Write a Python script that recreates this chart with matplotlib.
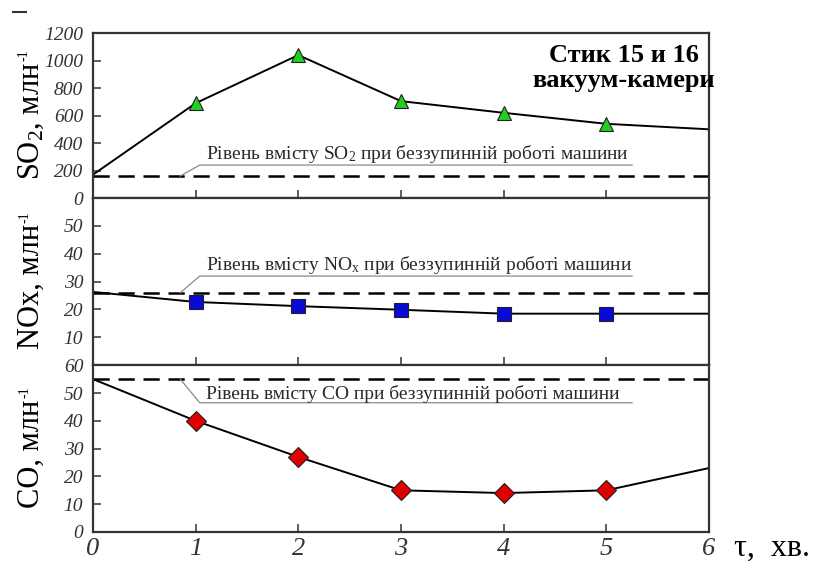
import matplotlib
matplotlib.use("Agg")
from matplotlib import pyplot as plt
from matplotlib.lines import Line2D

# time, min
t_points = [1, 2, 3, 4, 5]
t_line = [0, 1, 2, 3, 4, 5, 6]

so2_line = [170, 690, 1040, 705, 620, 540, 500]
nox_line = [26.3, 22.7, 21.2, 19.9, 18.5, 18.5, 18.5]
co_line = [55, 40, 27, 15, 14, 15, 23]

so2_base = 160
nox_base = 26
co_base = 55

so2_ticks = [0, 200, 400, 600, 800, 1000, 1200]
nox_ticks = [10, 20, 30, 40, 50]
co_ticks = [0, 10, 20, 30, 40, 50, 60]

serif = ["Liberation Serif", "DejaVu Serif"]
plt.rcParams['font.family'] = serif
plt.rcParams['mathtext.fontset'] = 'custom'
plt.rcParams['mathtext.rm'] = 'Liberation Serif'
plt.rcParams['mathtext.it'] = 'Liberation Serif:italic'
plt.rcParams['mathtext.bf'] = 'Liberation Serif:bold'

fig = plt.figure(figsize=(8.39, 5.61), dpi=100)
L, W = 0.1108, 0.7343
ax1 = fig.add_axes([L, 0.647, W, 0.294])
ax2 = fig.add_axes([L, 0.349, W, 0.298])
ax3 = fig.add_axes([L, 0.0517, W, 0.2973])

panels = [
    (ax1, so2_line, so2_base, (0, 1200), so2_ticks, "^", "#1fd01f",
     r"SO$_{\mathregular{2}}$, млн",
     r"Рівень вмісту SO$_{\mathregular{2}}$ при беззупинній роботі машини", 240),
    (ax2, nox_line, nox_base, (0, 60), nox_ticks, "s", "#0a0ad8",
     "NOx, млн",
     r"Рівень вмісту NO$_{\mathregular{x}}$ при беззупинній роботі машини", 32),
    (ax3, co_line, co_base, (0, 60), co_ticks, "D", "#e00000",
     "CO, млн",
     "Рівень вмісту CO при беззупинній роботі машини", 46.5),
]

for ax, vals, base, ylim, ticks, mk, col, ylab, note, uy in panels:
    ax.plot(t_line, vals, color="black", lw=1.4, zorder=2)
    ax.plot(t_points, vals[1:6], ls="none", marker=mk, ms=10,
            mfc=col, mec="#202020", mew=0.8, zorder=3)
    ax.axhline(base, color="black", lw=1.8, dashes=(6.5, 3.5), zorder=1)
    # leader line and underline of the note
    ax.plot([0.85, 1.04, 5.25], [base, uy, uy], color="#8a8a8a", lw=0.9, zorder=1)
    ax.text(1.1, uy, note, fontsize=14, color="#2a2a2a",
            va="bottom", ha="left")

    ax.set_xlim(0, 6)
    ax.set_ylim(*ylim)
    ax.set_yticks(ticks)
    ax.set_xticks([1, 2, 3, 4, 5])
    ax.tick_params(direction="in", length=6, width=1.1, colors="#333333",
                   labelsize=14, pad=7, top=False, right=False)
    for lbl in ax.get_yticklabels():
        lbl.set_fontstyle("italic")
        lbl.set_color("#333333")
    ax.tick_params(axis="x", labelbottom=False)
    for s in ax.spines.values():
        s.set_linewidth(1.6)
        s.set_color("#333333")
    ax.set_ylabel(ylab, fontsize=22)
    ax.yaxis.set_label_coords(-0.076, 0.47)

ax3.set_xticks([0, 1, 2, 3, 4, 5, 6])
ax3.tick_params(axis="x", labelbottom=True, labelsize=19, pad=4)
for lbl in ax3.get_xticklabels():
    lbl.set_fontstyle("italic")
    lbl.set_color("#333333")
ax3.xaxis.get_major_ticks()[0].tick1line.set_visible(False)
ax3.xaxis.get_major_ticks()[-1].tick1line.set_visible(False)

ax3.text(1.04, -0.095, "τ,  хв.", transform=ax3.transAxes, fontsize=23,
         ha="left", va="center")

ax1.text(0.862, 0.79, "Стик 15 и 16\nвакуум-камери", transform=ax1.transAxes,
         fontsize=19, fontweight="bold", ha="center", va="center", linespacing=1.1)

fig.add_artist(Line2D([0.016, 0.031], [0.978, 0.978], color="#333333", lw=1.5,
                      transform=fig.transFigure))

# small "-1" exponent after each rotated unit label
fig.canvas.draw()
r = fig.canvas.get_renderer()
fw, fh = fig.bbox.width, fig.bbox.height
for ax in (ax1, ax2, ax3):
    bb = ax.yaxis.label.get_window_extent(r)
    fig.text((bb.x0 + 1) / fw, (bb.y1 + 1) / fh, "-1", rotation=90,
             fontsize=10, ha="left", va="bottom")

fig.savefig("out.png", dpi=100)
